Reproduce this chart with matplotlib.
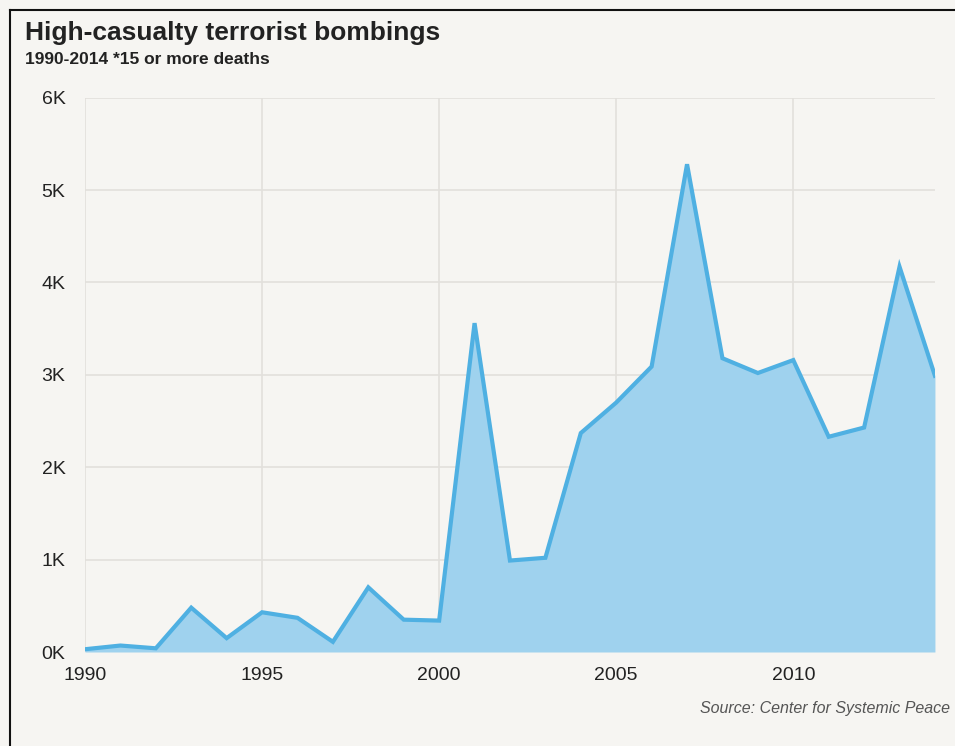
import matplotlib
matplotlib.use('Agg')
import matplotlib.pyplot as plt
from matplotlib.lines import Line2D

years = list(range(1990, 2015))
deaths = [30, 70, 40, 480, 150, 430, 370, 110, 700, 350, 340, 3560, 990, 1020,
          2370, 2700, 3090, 5280, 3180, 3020, 3160, 2330, 2430, 4170, 2990]
y_ticks = [0, 1000, 2000, 3000, 4000, 5000, 6000]
y_labels = ['0K', '1K', '2K', '3K', '4K', '5K', '6K']
x_ticks = [1990, 1995, 2000, 2005, 2010]

TITLE = 'High-casualty terrorist bombings'
SUBTITLE = '1990-2014 *15 or more deaths'
SOURCE = 'Source: Center for Systemic Peace'

BG = '#f6f5f2'
FILL = '#9fd2ee'
LINE = '#4fb0e2'

plt.rcParams['font.family'] = ['Liberation Sans', 'DejaVu Sans']

fig = plt.figure(figsize=(9.55, 7.46), dpi=100, facecolor=BG)
ax = fig.add_axes([0.089, 0.126, 0.890, 0.743])
ax.set_facecolor(BG)

ax.fill_between(years, deaths, 0, color=FILL, linewidth=0, zorder=2)
ax.plot(years, deaths, color=LINE, linewidth=3, solid_joinstyle='miter', zorder=3)

ax.set_xlim(1990, 2014)
ax.set_ylim(0, 6000)
ax.set_yticks(y_ticks)
ax.set_yticklabels(y_labels)
ax.set_xticks(x_ticks)
ax.grid(True, color='#e2e0dc', linewidth=1.2, zorder=0)
ax.tick_params(length=0, labelsize=14, colors='#222222')
ax.tick_params(axis='y', pad=14)
ax.tick_params(axis='x', pad=11)
for s in ax.spines.values():
    s.set_visible(False)

# titles and source
fig.text(25 / 955, 1 - 33 / 746, TITLE, fontsize=19, fontweight='bold',
         color='#222222', va='center', ha='left')
fig.text(25 / 955, 1 - 60 / 746, SUBTITLE, fontsize=12.5, fontweight='bold',
         color='#222222', va='center', ha='left')
fig.text(950 / 955, 1 - 708 / 746, SOURCE, fontsize=11.5, style='italic',
         color='#555555', va='center', ha='right')

# scan border, top and left
fig.add_artist(Line2D([10 / 955, 10 / 955], [0, 1 - 10 / 746], color='#111111',
                      linewidth=1.5, transform=fig.transFigure))
fig.add_artist(Line2D([10 / 955, 1], [1 - 10 / 746, 1 - 10 / 746], color='#111111',
                      linewidth=1.5, transform=fig.transFigure))

fig.savefig('out.png', dpi=100, facecolor=BG)
